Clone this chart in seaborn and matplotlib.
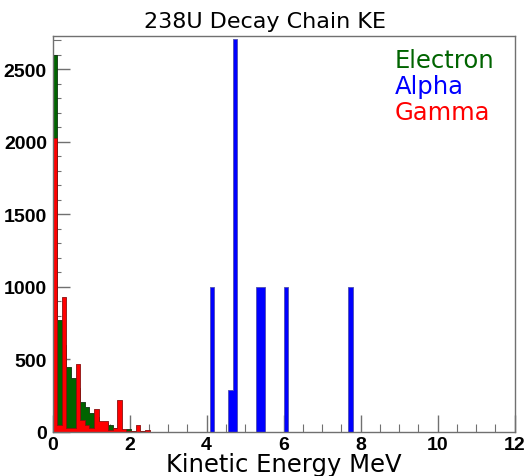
import numpy as np
import pandas as pd
import matplotlib
matplotlib.use("Agg")
import matplotlib.pyplot as plt
import seaborn as sns

# ---- data (histogram bin contents, bin width 0.12 MeV from 0 to 12 MeV) ----
bin_width = 0.12

electron_counts = [2600, 769, 600, 451, 370, 300, 205, 170, 129, 100, 70, 60,
                   45, 25, 20, 15, 18, 5, 5, 4, 3, 3, 2, 2]
gamma_counts = [2030, 50, 934, 28, 25, 469, 80, 50, 28, 160, 76, 76,
                15, 28, 222, 20, 5, 8, 48, 5, 16, 3, 2, 0]
alpha_bin_index = [34, 38, 39, 44, 45, 50, 64]
alpha_counts = [1000, 290, 2710, 1000, 1000, 1000, 1000]

series_names = ["Electron", "Alpha", "Gamma"]
series_colors = {"Electron": "#006400", "Alpha": "#0000ff", "Gamma": "#ff0000"}
edge_colors = {"Electron": "#113311", "Alpha": "#5050b0", "Gamma": "#8a1010"}

rows = []
for i, c in enumerate(electron_counts):
    rows.append(("Electron", (i + 0.5) * bin_width, c))
for i, c in zip(alpha_bin_index, alpha_counts):
    rows.append(("Alpha", (i + 0.5) * bin_width, c))
for i, c in enumerate(gamma_counts):
    rows.append(("Gamma", (i + 0.5) * bin_width, c))
df = pd.DataFrame(rows, columns=["particle", "energy", "count"])

sns.set_theme(style="white")
plt.rcParams["font.family"] = ["DejaVu Sans"]

W, H = 527, 477
fig = plt.figure(figsize=(W / 100, H / 100), dpi=100)
ax = fig.add_axes([52.5 / W, 1 - 433 / H, (514.5 - 52.5) / W, (433 - 37) / H])

for name in series_names:
    sub = df[df["particle"] == name]
    lo = round((sub["energy"].min() - bin_width / 2) / bin_width)
    hi = round((sub["energy"].max() + bin_width / 2) / bin_width)
    sns.histplot(data=sub, x="energy", weights="count", bins=int(hi - lo),
                 binrange=(lo * bin_width, hi * bin_width),
                 element="step", fill=True, alpha=1.0,
                 color=series_colors[name], edgecolor=edge_colors[name],
                 linewidth=0.6, ax=ax)

ax.set_xlim(0, 12)
ax.set_ylim(0, 2730)
ax.set_xlabel("")
ax.set_ylabel("")

frame_col = "#707070"
for s in ax.spines.values():
    s.set_color(frame_col)
    s.set_linewidth(1.0)

ax.set_xticks(np.arange(0, 12.1, 2))
ax.set_xticks(np.arange(0, 12.1, 0.5), minor=True)
ax.set_yticks(np.arange(0, 2501, 500))
ax.set_yticks(np.arange(0, 2701, 100), minor=True)
ax.tick_params(axis="both", which="both", direction="in", colors=frame_col,
               top=False, right=False, bottom=True, left=True)
ax.tick_params(axis="both", which="major", length=12, width=1.0)
ax.tick_params(axis="both", which="minor", length=6, width=0.8)
ax.tick_params(axis="x", which="major", pad=3)
ax.tick_params(axis="y", which="major", pad=4)
for lab in ax.get_xticklabels() + ax.get_yticklabels():
    lab.set_fontfamily("Liberation Sans")
    lab.set_fontweight("bold")
    lab.set_fontsize(14)
    lab.set_color("black")

fig.text(265 / W, 1 - 28 / H, "238U Decay Chain KE", ha="center",
         va="baseline", fontsize=16, color="black")
fig.text(283.5 / W, 1 - 472 / H, "Kinetic Energy MeV", ha="center",
         va="baseline", fontsize=17.5, color="black")

legend_y = [68, 94, 120]
for name, yy in zip(series_names, legend_y):
    fig.text(395 / W, 1 - yy / H, name, ha="left", va="baseline",
             fontsize=17.5, color=series_colors[name])

fig.savefig("out.png", dpi=100)
